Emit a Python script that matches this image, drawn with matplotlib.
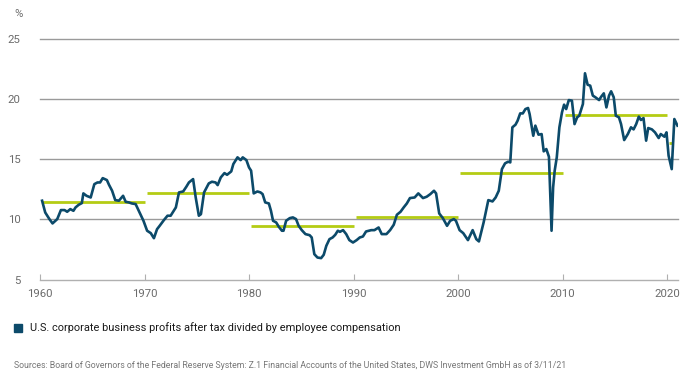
import matplotlib
matplotlib.use("Agg")
import matplotlib.pyplot as plt

# ---------------- data ----------------
years = [1960.2, 1960.5, 1960.9, 1961.2, 1961.65, 1962.0, 1962.35, 1962.6, 1962.9, 1963.2,
         1963.4, 1963.7, 1964.0, 1964.15, 1964.45, 1964.85, 1965.2, 1965.5, 1965.75, 1966.0,
         1966.4, 1966.6, 1966.9, 1967.2, 1967.55, 1967.95, 1968.2, 1968.5, 1968.8, 1969.15,
         1969.45, 1969.9, 1970.25, 1970.6, 1970.9, 1971.2, 1971.45, 1971.85, 1972.2, 1972.5,
         1972.7, 1973.0, 1973.3, 1973.7, 1974.0, 1974.25, 1974.65, 1974.9, 1975.2, 1975.4,
         1975.7, 1976.15, 1976.45, 1976.8, 1977.0, 1977.3, 1977.65, 1977.9, 1978.3, 1978.5,
         1978.9, 1979.2, 1979.4, 1979.75, 1980.0, 1980.2, 1980.45, 1980.8, 1981.1, 1981.3,
         1981.55, 1981.9, 1982.1, 1982.3, 1982.6, 1982.85, 1983.15, 1983.3, 1983.55, 1983.9,
         1984.2, 1984.5, 1984.75, 1985.05, 1985.4, 1985.8, 1986.0, 1986.25, 1986.55, 1986.9,
         1987.15, 1987.4, 1987.7, 1988.0, 1988.25, 1988.5, 1988.7, 1989.0, 1989.3, 1989.6,
         1989.95, 1990.3, 1990.6, 1990.9, 1991.2, 1991.7, 1992.0, 1992.4, 1992.7, 1993.15,
         1993.5, 1993.85, 1994.15, 1994.5, 1994.8, 1995.1, 1995.4, 1995.85, 1996.2, 1996.65,
         1997.0, 1997.35, 1997.7, 1997.9, 1998.2, 1998.55, 1998.95, 1999.25, 1999.6, 1999.8,
         2000.15, 2000.5, 2000.95, 2001.4, 2001.75, 2002.0, 2002.45, 2002.9, 2003.3, 2003.6,
         2003.9, 2004.2, 2004.5, 2004.8, 2005.0, 2005.2, 2005.5, 2005.7, 2005.95, 2006.2,
         2006.45, 2006.7, 2006.85, 2007.2, 2007.4, 2007.7, 2008.0, 2008.2, 2008.45, 2008.7,
         2008.95, 2009.1, 2009.25, 2009.45, 2009.7, 2009.95, 2010.15, 2010.35, 2010.6, 2010.9,
         2011.15, 2011.4, 2011.6, 2011.95, 2012.15, 2012.4, 2012.65, 2012.9, 2013.15, 2013.5,
         2013.7, 2013.95, 2014.2, 2014.45, 2014.65, 2014.9, 2015.1, 2015.4, 2015.6, 2015.9,
         2016.25, 2016.55, 2016.8, 2017.05, 2017.3, 2017.5, 2017.75, 2018.0, 2018.2, 2018.55,
         2018.85, 2019.2, 2019.4, 2019.75, 2019.95, 2020.15, 2020.45, 2020.7, 2021.0]
ratio = [11.56, 10.58, 10.03, 9.67, 10.03, 10.78, 10.78, 10.64, 10.86, 10.72,
         11.0, 11.22, 11.36, 12.17, 11.97, 11.83, 12.94, 13.08, 13.08, 13.44,
         13.28, 12.89, 12.39, 11.61, 11.56, 11.97, 11.47, 11.42, 11.33, 11.28,
         10.72, 9.89, 9.06, 8.86, 8.44, 9.19, 9.47, 9.94, 10.31, 10.31,
         10.58, 11.0, 12.25, 12.33, 12.72, 13.08, 13.36, 11.83, 10.31, 10.44,
         12.25, 13.0, 13.14, 13.08, 12.86, 13.5, 13.86, 13.72, 14.0, 14.61,
         15.17, 14.94, 15.17, 14.94, 14.33, 14.06, 12.17, 12.33, 12.25, 12.11,
         11.42, 11.33, 10.72, 9.89, 9.75, 9.39, 9.06, 9.06, 9.89, 10.11,
         10.17, 10.03, 9.47, 9.11, 8.78, 8.69, 8.5, 7.11, 6.83, 6.78,
         7.06, 7.81, 8.36, 8.5, 8.72, 9.06, 8.97, 9.11, 8.78, 8.28,
         8.08, 8.28, 8.5, 8.58, 9.0, 9.11, 9.11, 9.33, 8.78, 8.78,
         9.11, 9.56, 10.39, 10.64, 11.0, 11.33, 11.78, 11.83, 12.17, 11.78,
         11.89, 12.11, 12.39, 12.17, 10.5, 10.11, 9.47, 9.89, 10.03, 9.89,
         9.11, 8.86, 8.28, 9.11, 8.36, 8.17, 9.75, 11.61, 11.5, 11.83,
         12.39, 14.19, 14.67, 14.81, 14.75, 17.67, 17.89, 18.22, 18.83, 18.83,
         19.19, 19.28, 18.78, 16.97, 17.81, 17.06, 17.11, 15.67, 15.86, 15.22,
         9.06, 12.67, 14.06, 15.17, 17.67, 18.92, 19.56, 19.19, 19.94, 19.89,
         17.94, 18.5, 18.64, 19.61, 22.17, 21.22, 21.14, 20.31, 20.17, 19.94,
         20.22, 20.5, 19.33, 20.31, 20.67, 20.17, 18.64, 18.5, 17.94, 16.61,
         17.11, 17.67, 17.5, 17.94, 18.56, 18.28, 18.44, 16.56, 17.61, 17.5,
         17.25, 16.78, 17.11, 16.89, 17.25, 15.31, 14.19, 18.36, 17.81]

avg_start = [1960.2, 1970.2, 1980.2, 1990.2, 2000.2, 2010.2, 2020.15]
avg_end = [1970.0, 1980.0, 1990.0, 2000.0, 2010.0, 2020.0, 2020.5]
avg_value = [11.42, 12.17, 9.47, 10.22, 13.83, 18.72, 16.33]

x_ticks = [1960, 1970, 1980, 1990, 2000, 2010, 2020]
y_ticks = [5, 10, 15, 20, 25]
legend_label = "U.S. corporate business profits after tax divided by employee compensation"
source_text = ("Sources: Board of Governors of the Federal Reserve System: Z.1 Financial Accounts "
               "of the United States, DWS Investment GmbH as of 3/11/21")

# ---------------- style ----------------
plt.rcParams["font.family"] = ["Roboto", "DejaVu Sans"]

LINE = "#0c4a6a"
GREEN = "#b4cc14"
GRID = "#9a9a9a"
TICK = "#6b6b6b"

W, H = 693, 380
fig = plt.figure(figsize=(W / 100, H / 100), dpi=100)
ax = fig.add_axes([40 / W, 1 - 279.5 / H, (678 - 40) / W, (279.5 - 39.3) / H])

ax.set_xlim(1960, 2021.05)
ax.set_ylim(5, 25)
ax.set_yticks(y_ticks)
ax.set_xticks(x_ticks)
ax.set_yticklabels([str(v) for v in y_ticks])
ax.set_xticklabels([str(v) for v in x_ticks])

for v in y_ticks[1:]:
    ax.axhline(v, color=GRID, lw=1.0, zorder=1, clip_on=False)

for s in ["top", "right", "left"]:
    ax.spines[s].set_visible(False)
ax.spines["bottom"].set_color("#b0b0b0")
ax.spines["bottom"].set_linewidth(1.0)

ax.tick_params(axis="y", length=0, pad=14, labelsize=8.2, labelcolor=TICK)
ax.tick_params(axis="x", length=4, width=0.8, color="#b0b0b0", pad=7, labelsize=8.2,
               labelcolor=TICK, direction="in")

for s0, s1, v in zip(avg_start, avg_end, avg_value):
    ax.plot([s0, s1], [v, v], color=GREEN, lw=2.0, solid_capstyle="butt", zorder=2)

ax.plot(years, ratio, color=LINE, lw=1.9, zorder=3, solid_joinstyle="round")

fig.text(14 / W, 1 - 14 / H, "%", fontsize=8.2, color=TICK, ha="left", va="center")

# legend
fig.patches.append(matplotlib.patches.Rectangle((14 / W, 1 - 332 / H), 8 / W, 8 / H,
                                                transform=fig.transFigure, color=LINE))
fig.text(30 / W, 1 - 328 / H, legend_label, fontsize=7.9, color="#1a1a1a",
         ha="left", va="center")
fig.text(14 / W, 1 - 365 / H, source_text, fontsize=6.3, color="#777777",
         ha="left", va="center")

fig.savefig("out.png", dpi=100)
